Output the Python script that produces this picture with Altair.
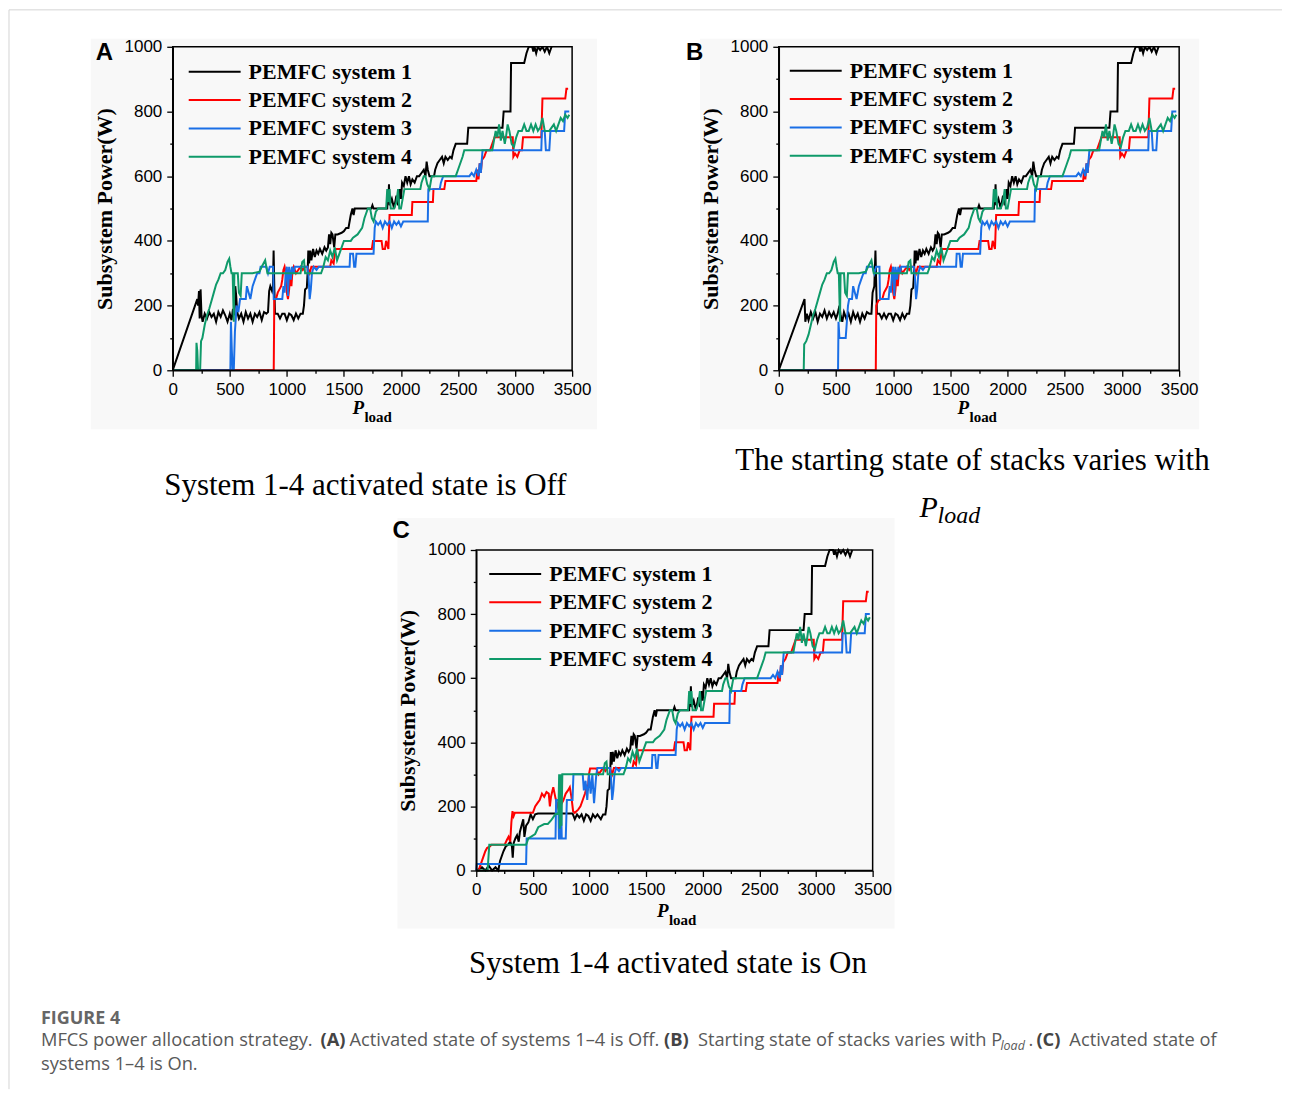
import altair as alt
import pandas as pd

SERIES = ["PEMFC system 1", "PEMFC system 2", "PEMFC system 3", "PEMFC system 4"]
COLORS = ["#000000", "#ff0000", "#1a6fe6", "#0f9a6a"]
X_TICKS = list(range(0, 3501, 250))
Y_TICKS = list(range(0, 1001, 100))

# ---- shared upper parts of each curve (identical in all three panels) ----
S1_TAIL = [(1150,200),(1160,250),(1175,255),(1182,300),(1188,370),(1195,330),(1205,370),(1215,340),(1230,375),(1245,350),(1260,370),(1275,360),(1290,375),(1310,360),(1330,380),(1345,370),(1360,380),(1370,420),(1380,390),(1390,425),(1400,420),(1415,380),(1425,420),(1445,420),(1480,425),(1500,430),(1520,440),(1540,440),(1560,480),(1575,500),(1585,480),(1595,500),(1740,500),(1750,510),(1760,500),(1880,500),(1885,555),(1890,520),(1895,575),(1900,510),(1920,530),(1940,500),(1960,540),(1975,510),(1990,560),(2000,530),(2010,580),(2025,570),(2040,600),(2055,580),(2070,600),(2085,575),(2100,590),(2120,580),(2140,600),(2160,600),(2180,610),(2200,620),(2215,600),(2225,645),(2235,620),(2250,600),(2290,600),(2300,620),(2320,640),(2340,650),(2360,660),(2375,640),(2390,660),(2410,650),(2430,660),(2445,655),(2460,680),(2480,700),(2580,700),(2590,750),(2890,750),(2900,800),(2960,800),(2965,950),(3080,950),(3100,980),(3120,1000),(3150,1000),(3160,985),(3170,1000),(3185,980),(3200,1000),(3220,990),(3240,1000),(3260,985),(3280,1000),(3300,980),(3320,1000)]
S2_TAIL = [(1215,320),(1380,320),(1390,340),(1410,330),(1425,375),(1745,375),(1755,400),(1830,400),(1840,375),(1860,375),(1870,400),(1890,375),(1900,480),(2095,480),(2100,520),(2280,520),(2285,560),(2380,560),(2390,585),(2660,585),(2670,620),(2680,590),(2690,640),(2700,610),(2710,650),(2730,660),(2750,680),(2780,680),(2800,700),(2820,720),(2980,720),(2985,660),(3000,670),(3020,660),(3040,680),(3060,680),(3070,720),(3230,720),(3240,840),(3440,840),(3450,870),(3465,870)]
S3_TAIL = [(1180,320),(1190,290),(1200,220),(1210,250),(1220,300),(1235,320),(1260,310),(1280,320),(1550,320),(1555,360),(1580,360),(1590,320),(1600,320),(1610,360),(1760,360),(1770,440),(1780,460),(1800,450),(1820,460),(1840,440),(1860,460),(1880,450),(1900,460),(1920,440),(1940,460),(1960,450),(1980,460),(2000,445),(2020,460),(2235,460),(2240,560),(2340,560),(2350,580),(2370,600),(2600,600),(2620,610),(2640,600),(2660,620),(2680,600),(2690,640),(2700,610),(2715,680),(3230,680),(3235,740),(3260,740),(3270,680),(3300,680),(3310,740),(3430,740),(3440,800),(3475,800)]
S4_TAIL = [(1300,300),(1320,320),(1340,350),(1360,340),(1380,370),(1400,350),(1420,380),(1440,340),(1460,360),(1480,380),(1500,400),(1560,400),(1580,410),(1620,420),(1660,440),(1680,470),(1710,500),(1730,500),(1745,470),(1760,460),(1780,490),(1800,500),(1870,500),(1880,560),(1890,520),(1900,560),(1910,500),(1940,500),(1960,520),(1975,560),(1985,500),(2000,500),(2030,560),(2170,560),(2180,580),(2200,600),(2215,600),(2230,575),(2250,560),(2270,600),(2480,600),(2500,620),(2520,640),(2540,660),(2555,680),(2800,680),(2810,700),(2830,740),(2845,720),(2860,760),(2875,710),(2890,740),(2910,700),(2920,720),(2935,760),(2950,740),(2970,700),(2990,690),(3010,720),(3030,740),(3060,740),(3080,760),(3100,740),(3120,740),(3140,760),(3160,740),(3180,760),(3200,740),(3220,750),(3240,780),(3260,740),(3300,740),(3320,750),(3340,760),(3360,740),(3380,760),(3400,780),(3420,770),(3440,790),(3460,780),(3475,790)]

# ---- lower parts, panel A (all systems start Off) ----
S1_HEAD_A = [(0,0),(215,220),(222,200),(230,245),(236,160),(244,250),(252,170),(262,150),(280,175),(300,160),(320,180),(340,165),(360,175),(380,150),(400,180),(420,165),(440,185),(460,170),(480,150),(500,175),(515,155),(528,190),(540,170),(548,260),(556,230),(565,180),(580,160),(600,175),(620,150),(640,180),(660,160),(680,175),(700,150),(720,175),(740,165),(760,180),(780,155),(800,180),(820,175),(835,180),(845,245),(855,260),(870,245),(878,260),(884,370),(890,260),(896,175),(920,175),(940,160),(960,175),(980,175),(1000,155),(1020,175),(1040,170),(1060,155),(1080,175),(1100,160),(1120,175),(1140,175)]
S2_HEAD_A = [(0,0),(885,0),(890,220),(905,220),(920,240),(935,250),(950,260),(960,280),(970,310),(980,320),(990,300),(1000,240),(1010,220),(1020,250),(1030,300),(1040,260),(1050,310),(1060,320),(1080,300),(1100,310),(1120,320),(1140,310),(1160,320),(1180,320),(1200,300)]
S3_HEAD_A = [(0,0),(505,0),(510,150),(518,60),(525,0),(535,0),(545,120),(560,200),(575,180),(590,220),(640,220),(650,260),(680,220),(700,260),(720,280),(740,300),(760,300),(770,320),(820,320),(835,300),(850,320),(880,320),(885,220),(960,220),(970,260),(980,240),(990,300),(1000,320),(1010,230),(1020,320),(1035,280),(1045,320),(1060,300),(1070,320)]
S4_HEAD_A = [(0,0),(205,0),(208,85),(215,60),(222,0),(240,0),(248,90),(260,100),(280,140),(300,170),(320,190),(340,215),(360,240),(380,265),(400,280),(420,300),(440,300),(460,310),(480,335),(495,345),(505,320),(515,300),(525,300),(535,150),(540,300),(570,300),(580,240),(595,230),(605,300),(700,300),(760,305),(780,320),(795,330),(810,340),(820,320),(830,300),(1120,300),(1135,335),(1150,340),(1160,300)]

# ---- lower parts, panel B (starting state varies with P_load) ----
S1_HEAD_B = [(0,0),(225,220),(232,150),(245,175),(260,155),(280,180),(300,160),(320,180),(340,150),(360,175),(380,165),(400,185),(420,160),(440,180),(460,165),(480,180),(500,160),(515,175),(530,200),(540,170),(555,150),(570,180),(590,160),(610,175),(630,150),(650,180),(670,160),(690,175),(710,150),(730,175),(750,160),(770,180),(790,175),(810,175),(820,240),(835,260),(845,370),(852,260),(858,175),(880,175),(900,160),(920,175),(940,160),(960,175),(980,175),(1000,155),(1020,175),(1040,170),(1060,155),(1080,175),(1100,160),(1120,175),(1140,175)]
S2_HEAD_B = [(0,0),(848,0),(852,200),(870,215),(890,220),(905,220),(920,240),(935,250),(950,260),(960,280),(970,310),(980,320),(990,300),(1000,240),(1010,220),(1020,250),(1030,300),(1040,260),(1050,310),(1060,320),(1080,300),(1100,310),(1120,320),(1140,310),(1160,320),(1180,320),(1200,300)]
S3_HEAD_B = [(0,0),(518,0),(522,150),(530,100),(585,100),(595,150),(605,200),(615,220),(640,220),(650,260),(680,220),(700,260),(720,280),(740,300),(760,300),(770,320),(820,320),(835,300),(850,320),(880,320),(885,220),(960,220),(970,260),(980,240),(990,300),(1000,320),(1010,230),(1020,320),(1035,280),(1045,320),(1060,300),(1070,320)]
S4_HEAD_B = [(0,0),(218,0),(222,80),(240,90),(260,110),(280,140),(300,170),(320,190),(340,215),(360,240),(380,265),(400,280),(420,300),(440,300),(460,310),(480,335),(495,345),(505,320),(515,300),(525,300),(535,150),(540,300),(570,300),(580,240),(595,230),(605,300),(700,300),(760,305),(780,320),(795,330),(810,340),(820,320),(830,300),(1120,300),(1135,335),(1150,340),(1160,300)]

# ---- lower parts, panel C (all systems start On) ----
S1_HEAD_C = [(0,0),(50,10),(80,0),(110,15),(140,0),(170,10),(195,0),(210,30),(240,60),(260,75),(280,80),(300,90),(315,75),(322,40),(330,85),(345,100),(360,110),(375,90),(385,120),(400,140),(415,160),(425,105),(440,140),(460,150),(480,175),(500,160),(520,175),(545,178),(850,178),(870,160),(890,175),(910,165),(930,175),(950,155),(970,175),(990,170),(1010,155),(1030,175),(1050,165),(1070,175),(1100,160),(1120,175),(1140,175)]
S2_HEAD_C = [(0,0),(20,0),(40,20),(60,40),(80,60),(95,70),(120,75),(135,80),(250,80),(270,95),(285,105),(300,90),(310,150),(320,185),(330,170),(340,180),(500,180),(520,200),(540,210),(560,220),(580,240),(600,230),(620,245),(640,240),(650,200),(660,230),(680,260),(700,225),(720,200),(740,230),(755,210),(770,220),(790,240),(810,250),(826,260),(840,230),(855,185),(870,180),(900,190),(920,200),(940,220),(960,240),(975,260),(985,250),(995,300),(1005,318),(1060,318),(1080,300),(1100,310),(1120,320),(1140,310),(1160,320),(1180,320),(1200,300)]
S3_HEAD_C = [(0,0),(5,20),(440,20),(445,100),(700,100),(705,220),(725,220),(730,100),(742,100),(748,220),(755,100),(790,100),(800,220),(850,220),(858,300),(940,300),(950,250),(965,280),(980,220),(995,300),(1010,240),(1025,300),(1040,210),(1060,300),(1070,320)]
S4_HEAD_C = [(0,0),(100,0),(115,80),(440,80),(460,100),(520,114),(547,135),(600,145),(632,145),(660,156),(700,176),(725,176),(732,300),(738,130),(745,300),(752,140),(760,300),(1120,300),(1135,335),(1150,340),(1160,300)]

ONE = pd.DataFrame({"k": [0]})
SERIF = "Liberation Serif"
SANS = "Liberation Sans"
PANEL_BG = "#f8f8f8"


def series_frame(heads):
    tails = [S1_TAIL, S2_TAIL, S3_TAIL, S4_TAIL]
    rows = []
    for name, head, tail in zip(SERIES, heads, tails):
        for k, (x, y) in enumerate(head + tail):
            rows.append({"series": name, "k": k, "x": x, "y": y})
    return pd.DataFrame(rows)


def label(t, x, y, size, font=SERIF, weight="normal", style="normal", align="left", color="#000000"):
    return alt.Chart(ONE).mark_text(
        text=t, font=font, fontSize=size, fontWeight=weight, fontStyle=style,
        align=align, baseline="alphabetic", color=color
    ).encode(x=alt.value(x), y=alt.value(y))


def backdrop(x1, x2, y1, y2):
    return alt.Chart(ONE).mark_rect(color=PANEL_BG).encode(
        x=alt.value(x1), x2=alt.value(x2), y=alt.value(y1), y2=alt.value(y2))


def panel(heads, pw, h, legend_x, legend_y, extras, bg, dx=0):
    """pw = plot width; dx shifts the plot inside a 400-px-wide grid cell."""
    df = series_frame(heads)
    xscale = alt.Scale(domain=[0, 3500], nice=False, zero=False, range=[dx, dx + pw])
    common = dict(grid=False, format="d", labelFont=SANS, labelFontSize=17,
                  labelColor="#000000", labelPadding=5, labelOverlap=False,
                  labelFlush=False, domainColor="#000000", domainWidth=1.5,
                  tickColor="#000000", tickWidth=1.3, zindex=2)
    yaxis = dict(values=Y_TICKS,
                 labelExpr="datum.value % 200 === 0 ? datum.label : ''",
                 title="Subsystem Power(W)", titleFont=SERIF, titleFontSize=22,
                 titleFontWeight="bold", titleColor="#000000", titlePadding=8,
                 tickSize={"condition": {"test": "datum.value % 200 === 0", "value": 6}, "value": 3},
                 **common)
    if dx:
        yaxis["offset"] = -dx
    xaxis = dict(values=X_TICKS,
                 labelExpr="datum.value % 500 === 0 ? datum.label : ''",
                 title=None,
                 tickSize={"condition": {"test": "datum.value % 500 === 0", "value": 6}, "value": 3},
                 **common)
    lines = alt.Chart(df).mark_line(strokeWidth=2, clip=(dx == 0)).encode(
        x=alt.X("x:Q", scale=xscale, axis=alt.Axis(**xaxis)),
        y=alt.Y("y:Q", scale=alt.Scale(domain=[0, 1000], nice=False), axis=alt.Axis(**yaxis)),
        color=alt.Color("series:N", scale=alt.Scale(domain=SERIES, range=COLORS),
                        legend=alt.Legend(title=None, orient="none", legendX=dx + legend_x, legendY=legend_y,
                                          symbolType="stroke", symbolSize=2704, symbolStrokeWidth=2,
                                          labelFont=SERIF, labelFontSize=22, labelFontWeight="bold",
                                          labelColor="#000000", labelOffset=7, labelLimit=400,
                                          clipHeight=26, rowPadding=2.4, padding=0)),
        order=alt.Order("k:Q"),
    )
    frame = alt.Chart(ONE).mark_rect(fillOpacity=0, stroke="#000000", strokeWidth=1.5).encode(
        x=alt.value(dx), x2=alt.value(dx + pw), y=alt.value(0), y2=alt.value(h))
    layers = [backdrop(*bg), lines, frame, *extras]
    return alt.layer(*layers).properties(width=400 if dx else pw, height=h)


def xtitle(x):
    return [label("P", x, 368, 19, weight="bold", style="italic"),
            label("load", x + 12, 376, 15, weight="bold")]


DXC = 304  # panel C plot starts 304 px right of panel A's plot

panel_a = panel([S1_HEAD_A, S2_HEAD_A, S3_HEAD_A, S4_HEAD_A], 400, 324, 15, 12,
                [label("A", -77, 13, 24, font=SANS, weight="bold"),
                 *xtitle(180),
                 label("System 1-4 activated state is Off", 193, 449, 31, align="center")],
                bg=(-82, 425, -8, 383))

panel_b = panel([S1_HEAD_B, S2_HEAD_B, S3_HEAD_B, S4_HEAD_B], 401, 324, 10, 11,
                [label("B", -93, 13, 24, font=SANS, weight="bold"),
                 *xtitle(179),
                 label("The starting state of stacks varies with", 194, 424, 31, align="center"),
                 label("P", 141, 471, 30, style="italic"),
                 label("load", 159, 477, 24, style="italic")],
                bg=(-79, 421, -8, 383))

panel_c = panel([S1_HEAD_C, S2_HEAD_C, S3_HEAD_C, S4_HEAD_C], 397, 321, 12, 11,
                [label("C", DXC - 84, -12, 24, font=SANS, weight="bold"),
                 *xtitle(DXC + 181),
                 label("System 1-4 activated state is On", DXC + 192, 424, 31, align="center")],
                bg=(225, 723, -32, 379), dx=DXC)

# caption block, positioned relative to the origin of the lower-right grid cell (page 779, 549)
CAP = "Open Sans"
CS = 18.3
GREY = "#595959"
border = alt.Chart(ONE).mark_rule(color="#d4d4d4", strokeWidth=1)
caption = alt.layer(
    border.encode(x=alt.value(-771), y=alt.value(-541), y2=alt.value(540)),
    border.encode(x=alt.value(-771), x2=alt.value(504), y=alt.value(-541)),
    label("FIGURE 4", -739, 475, 18, font=CAP, weight="bold", color="#666666"),
    label("MFCS power allocation strategy.", -739, 497, CS, font=CAP, color=GREY),
    label("(A)", -459, 497, CS, font=CAP, weight="bold", color="#444444"),
    label("Activated state of systems 1\u20134 is Off.", -430, 497, CS, font=CAP, color=GREY),
    label("(B)", -115, 497, CS, font=CAP, weight="bold", color="#444444"),
    label("Starting state of stacks varies with P", -81, 497, CS, font=CAP, color=GREY),
    label("load", 222, 501, 12.5, font=CAP, style="italic", color=GREY),
    label(".", 250, 497, CS, font=CAP, color=GREY),
    label("(C)", 258, 497, CS, font=CAP, weight="bold", color="#444444"),
    label("Activated state of", 291, 497, CS, font=CAP, color=GREY),
    label("systems 1\u20134 is On.", -739, 521, CS, font=CAP, color=GREY),
).properties(width=10, height=10)

chart = alt.concat(
    panel_a, panel_b, panel_c, caption,
    columns=2, spacing={"row": 180, "column": 207}, bounds="flush", align="each",
).resolve_legend(color="independent").properties(
    padding=0, background="#ffffff"
).configure_view(stroke="transparent")

chart.save("out.html", embed_options={"renderer": "svg", "actions": False})
